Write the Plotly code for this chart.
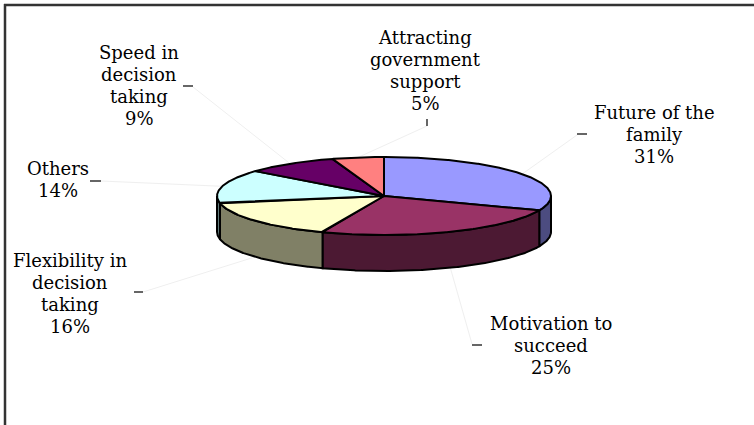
import numpy as np
import plotly.graph_objects as go

# ---------------- data ----------------
labels = ["Future of the family", "Motivation to succeed", "Flexibility in decision taking",
          "Others", "Speed in decision taking", "Attracting government support"]
values = [31, 25, 16, 14, 9, 5]
label_lines = [["Future of the", "family"], ["Motivation to", "succeed"],
               ["Flexibility in", "decision", "taking"], ["Others"],
               ["Speed in", "decision", "taking"], ["Attracting", "government", "support"]]

# ---------------- styles / layout ----------------
top_colors = ["#9999FF", "#993366", "#FFFFCC", "#CCFFFF", "#660066", "#FF8080"]
side_colors = ["#4C4C80", "#4C1933", "#808066", "#668080", "#330033", "#804040"]
label_pos = [(654, 112), (551, 323), (70, 260), (58, 168), (139, 52), (425, 37)]
tick_segs = [((577, 134), (587, 134)), ((472, 345), (482, 345)), ((134, 292), (143, 292)),
             ((90, 181), (101, 181)), ((183, 86), (193, 86)), ((427, 119), (427, 126))]
leader_starts = [(577, 135), (472, 344), (143, 292), (101, 181), (193, 87), (427, 126)]
LINE_H = 22
FONT = dict(family="DejaVu Serif", size=18, color="black")

CX, CY, RX, RY, DEPTH = 384, 196, 167, 39, 36
W, H = 754, 425


def pt(theta, dy=0.0):
    t = np.radians(theta)
    return CX + RX * np.sin(t), CY - RY * np.cos(t) + dy


total = float(sum(values))
bounds = np.concatenate([[0], np.cumsum(values)]) / total * 360.0

fig = go.Figure()

# leader lines (light)
for i in range(len(values)):
    mid = (bounds[i] + bounds[i + 1]) / 2
    front = 90 <= mid <= 270
    ax, ay = pt(mid, DEPTH if front else 0)
    sx, sy = leader_starts[i]
    fig.add_trace(go.Scatter(x=[sx, ax], y=[sy, ay], mode="lines",
                             line=dict(color="#EFEFEF", width=1), hoverinfo="skip"))

# side faces
for i in range(len(values)):
    a0, a1 = max(bounds[i], 90), min(bounds[i + 1], 270)
    if a1 <= a0:
        continue
    th = np.linspace(a0, a1, 200)
    xt, yt = pt(th)
    xb, yb = pt(th[::-1], DEPTH)
    xs = np.concatenate([xt, xb, xt[:1]])
    ys = np.concatenate([yt, yb, yt[:1]])
    fig.add_trace(go.Scatter(x=xs, y=ys, mode="lines", fill="toself",
                             fillcolor=side_colors[i],
                             line=dict(color="black", width=2), hoverinfo="skip"))

# top faces
for i in range(len(values)):
    th = np.linspace(bounds[i], bounds[i + 1], 300)
    xa, ya = pt(th)
    xs = np.concatenate([[CX], xa, [CX]])
    ys = np.concatenate([[CY], ya, [CY]])
    fig.add_trace(go.Scatter(x=xs, y=ys, mode="lines", fill="toself",
                             fillcolor=top_colors[i],
                             line=dict(color="black", width=2), hoverinfo="text",
                             text=f"{labels[i]}: {values[i]}%"))

# short ticks at label ends
for (p0, p1) in tick_segs:
    fig.add_trace(go.Scatter(x=[p0[0], p1[0]], y=[p0[1], p1[1]], mode="lines",
                             line=dict(color="black", width=1.2), hoverinfo="skip"))

# labels
annotations = []
for i in range(len(values)):
    pct = f"{round(values[i] / total * 100)}%"
    lines = label_lines[i] + [pct]
    x0, y0 = label_pos[i]
    for k, txt in enumerate(lines):
        annotations.append(dict(x=x0, y=y0 + k * LINE_H, text=txt, showarrow=False,
                                xanchor="center", yanchor="middle", font=FONT,
                                xref="x", yref="y"))

shapes = [
    dict(type="line", xref="x", yref="y", x0=4, x1=W + 5, y0=5, y1=5,
         line=dict(color="#333333", width=2.5)),
    dict(type="line", xref="x", yref="y", x0=5, x1=5, y0=4, y1=H + 5,
         line=dict(color="#333333", width=2.5)),
]

fig.update_layout(
    width=W, height=H, margin=dict(l=0, r=0, t=0, b=0),
    paper_bgcolor="white", plot_bgcolor="white", showlegend=False,
    font=FONT,
    xaxis=dict(range=[0, W], visible=False, fixedrange=True),
    yaxis=dict(range=[H, 0], visible=False, fixedrange=True),
    annotations=annotations, shapes=shapes,
)

fig.write_html("out.html")
